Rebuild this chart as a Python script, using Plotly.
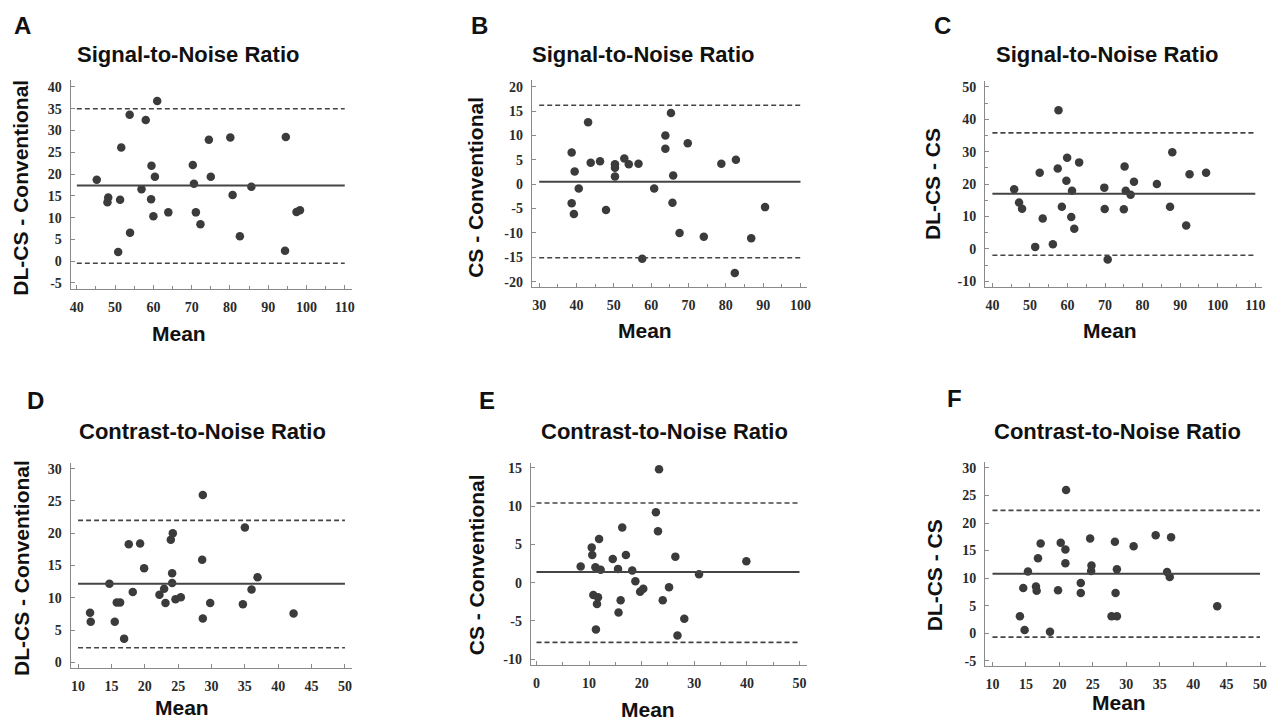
import plotly.graph_objects as go

W, H = 1281, 724

# ---------------- data ----------------
a_mean = [45.2, 48.2, 48.0, 51.3, 51.6, 50.8, 53.9, 53.8, 56.9, 58.0, 59.4, 59.5, 60.4, 60.0, 61.0,
          63.9, 70.3, 70.6, 71.1, 72.3, 74.5, 75.0, 80.1, 80.7, 82.6, 85.6, 94.6, 94.4, 97.4, 98.3]
a_diff = [18.7, 14.6, 13.5, 14.1, 26.1, 2.1, 6.5, 33.6, 16.5, 32.4, 14.2, 21.9, 19.4, 10.3, 36.8,
          11.2, 22.1, 17.8, 11.2, 8.5, 27.9, 19.4, 28.4, 15.2, 5.7, 17.1, 28.5, 2.4, 11.3, 11.7]

b_mean = [38.7, 39.5, 40.6, 38.7, 39.3, 43.1, 43.8, 46.3, 47.9, 50.3, 50.3, 50.3, 52.8, 54.0, 56.6,
          57.6, 60.8, 63.8, 63.8, 65.3, 65.9, 65.7, 67.6, 69.8, 74.1, 78.8, 82.7, 82.4, 86.8, 90.5]
b_diff = [6.5, 2.6, -0.9, -3.9, -6.1, 12.7, 4.4, 4.7, -5.3, 4.1, 3.4, 1.6, 5.3, 4.1, 4.2,
          -15.3, -0.9, 10.0, 7.3, 14.6, 1.8, -3.8, -10.0, 8.4, -10.8, 4.2, 5.0, -18.2, -11.1, -4.7]

c_mean = [45.8, 47.1, 47.9, 52.6, 53.4, 51.4, 56.1, 57.4, 57.6, 58.5, 59.9, 59.7, 63.1, 61.2, 61.0,
          61.8, 69.8, 69.9, 70.7, 75.2, 75.5, 76.8, 75.0, 77.7, 83.8, 87.9, 87.3, 91.6, 92.5, 96.9]
c_diff = [18.4, 14.3, 12.4, 23.5, 9.4, 0.6, 1.4, 24.8, 42.8, 13.0, 28.1, 21.0, 26.7, 17.9, 9.8,
          6.2, 18.9, 12.3, -3.3, 25.4, 17.9, 16.7, 12.2, 20.7, 20.0, 29.8, 13.0, 7.2, 23.0, 23.5]

d_mean = [11.8, 11.9, 14.7, 15.5, 15.8, 16.3, 17.6, 16.9, 18.2, 19.3, 19.9, 22.2, 22.9, 23.1, 23.9,
          24.2, 24.1, 24.1, 24.6, 25.4, 28.7, 28.6, 28.7, 29.8, 35.0, 36.9, 36.0, 34.7, 42.3]
d_diff = [7.7, 6.3, 12.2, 6.3, 9.3, 9.3, 18.3, 3.7, 10.9, 18.4, 14.6, 10.5, 11.4, 9.2, 19.0,
          20.0, 13.8, 12.3, 9.8, 10.1, 25.9, 15.9, 6.8, 9.2, 20.9, 13.2, 11.3, 9.0, 7.6]

e_mean = [8.4, 10.5, 10.6, 11.9, 11.2, 12.2, 10.8, 11.7, 11.5, 11.3, 14.5, 15.5, 15.6, 16.0, 16.3,
          17.0, 18.2, 18.8, 19.7, 20.3, 23.3, 22.7, 23.1, 26.4, 25.2, 24.0, 28.1, 26.8, 30.9, 39.9]
e_diff = [2.1, 4.6, 3.6, 5.7, 2.0, 1.7, -1.6, -1.9, -2.8, -6.1, 3.1, 1.8, -3.9, -2.3, 7.2,
          3.6, 1.6, 0.2, -1.2, -0.8, 14.8, 9.2, 6.7, 3.4, -0.6, -2.3, -4.7, -6.9, 1.1, 2.8]

f_mean = [14.1, 14.8, 14.6, 15.3, 16.8, 17.2, 16.5, 16.6, 18.6, 19.8, 20.2, 20.9, 21.0, 20.9, 23.2,
          23.2, 24.6, 24.8, 24.75, 28.3, 28.6, 28.4, 27.8, 28.6, 31.1, 34.4, 36.7, 36.1, 36.5, 43.6]
f_diff = [3.1, 0.6, 8.2, 11.2, 13.6, 16.3, 8.5, 7.7, 0.3, 7.8, 16.4, 15.2, 26.0, 12.7, 9.1,
          7.3, 17.2, 12.3, 11.3, 16.6, 11.6, 7.3, 3.1, 3.1, 15.8, 17.8, 17.4, 11.1, 10.2, 4.9]

# bias (solid) and limits of agreement (dashed)
bias = [17.4, 0.5, 17.0, 12.2, 1.4, 10.8]
loa_upper = [35.0, 16.2, 35.8, 22.0, 10.4, 22.3]
loa_lower = [-0.5, -15.1, -2.0, 2.3, -7.8, -0.7]

letters = ["A", "B", "C", "D", "E", "F"]
titles = ["Signal-to-Noise Ratio"] * 3 + ["Contrast-to-Noise Ratio"] * 3
ytitles = ["DL-CS - Conventional", "CS - Conventional", "DL-CS - CS",
           "DL-CS - Conventional", "CS - Conventional", "DL-CS - CS"]
xtitle = "Mean"

x_ticks = [list(range(40, 111, 10)), list(range(30, 101, 10)), list(range(40, 111, 10)),
           list(range(10, 51, 5)), list(range(0, 51, 10)), list(range(10, 51, 5))]
y_ticks = [list(range(-5, 41, 5)), list(range(-20, 21, 5)), list(range(-10, 51, 10)),
           list(range(0, 31, 5)), list(range(-10, 16, 5)), list(range(-5, 31, 5))]

xs = [a_mean, b_mean, c_mean, d_mean, e_mean, f_mean]
ys = [a_diff, b_diff, c_diff, d_diff, e_diff, f_diff]

# ---------------- layout geometry (pixels) ----------------
# plot boxes: left, right, top, bottom
boxes = [(70, 352, 79, 289), (533, 809, 79, 287), (988, 1266, 80, 287),
         (70, 352, 464, 671), (532, 809, 464, 668), (988, 1270, 463, 669)]
x_ranges = [[38.4, 111.8], [28.05, 101.7], [38.07, 111.8], [8.9, 51.0], [-1.06, 51.4], [8.9, 50.9]]
y_ranges = [[-6.4, 41.5], [-21.1, 21.3], [-11.8, 51.7], [-0.9, 30.9], [-10.8, 15.65], [-6.0, 31.1]]
x_minor = [5, 5, 5, None, 5, None]
y_minor = [None, None, 5, None, None, None]

letter_pos = [(22, 24), (480, 24), (945, 24), (35, 401), (488, 401), (957, 399)]
title_pos = [(188, 53), (645, 53), (1110, 53), (202, 432), (666, 432), (1121, 432)]
ytitle_pos = [(20, 187), (477, 187), (935, 183), (20, 570), (477, 567), (937, 577)]
xtitle_pos = [(179, 334), (647, 331), (1113, 331), (182, 710), (650, 712), (1122, 705)]

SANS = "Liberation Sans, Arial, sans-serif"
SERIF = "Liberation Serif, Times New Roman, serif"
AX = "#8a8a8a"
DOT = "#3b3b3b"
LINE = "#444444"

fig = go.Figure()
annotations = []


def ann(text, pos, size, angle=0, color="#111111"):
    annotations.append(dict(text=text, x=pos[0] / W, y=1 - pos[1] / H, xref="paper",
                            yref="paper", showarrow=False, xanchor="center",
                            yanchor="middle", textangle=angle,
                            font=dict(family=SANS, size=size, color=color, weight="bold")))


for i in range(6):
    n = "" if i == 0 else str(i + 1)
    xa, ya = "x" + n, "y" + n
    l, r, t, b = boxes[i]
    xt, yt = x_ticks[i], y_ticks[i]

    fig.add_trace(go.Scatter(x=xs[i], y=ys[i], mode="markers", xaxis=xa, yaxis=ya,
                             marker=dict(color=DOT, size=8.5, line=dict(width=0)),
                             showlegend=False, hoverinfo="x+y"))
    xline = [xt[0], xt[-1]]
    fig.add_trace(go.Scatter(x=xline, y=[bias[i]] * 2, mode="lines", xaxis=xa, yaxis=ya,
                             line=dict(color=LINE, width=2), showlegend=False, hoverinfo="skip"))
    for v in (loa_upper[i], loa_lower[i]):
        fig.add_trace(go.Scatter(x=xline, y=[v] * 2, mode="lines", xaxis=xa, yaxis=ya,
                                 line=dict(color=LINE, width=1.6, dash="5px,3px"),
                                 showlegend=False, hoverinfo="skip"))

    common = dict(showline=True, linecolor=AX, linewidth=1.2, showgrid=False, zeroline=False,
                  ticks="inside", ticklen=4, tickcolor=AX, tickwidth=1,
                  tickfont=dict(family=SERIF, size=14, color="#2a2a2a", weight="bold"),
                  fixedrange=True)
    xaxis = dict(common, domain=[l / W, r / W], range=x_ranges[i], anchor=ya,
                 tickmode="array", tickvals=xt, ticktext=[str(v) for v in xt],
                 ticklabelstandoff=5)
    if x_minor[i]:
        xaxis["minor"] = dict(dtick=x_minor[i], tick0=0, ticks="inside", ticklen=3,
                              tickcolor=AX, showgrid=False)
    yaxis = dict(common, domain=[1 - b / H, 1 - t / H], range=y_ranges[i], anchor=xa,
                 tickmode="array", tickvals=yt, ticktext=[str(v) for v in yt],
                 ticklabelstandoff=5)
    if y_minor[i]:
        yaxis["minor"] = dict(dtick=y_minor[i], tick0=0, ticks="inside", ticklen=3,
                              tickcolor=AX, showgrid=False)
    fig.layout["xaxis" + n] = xaxis
    fig.layout["yaxis" + n] = yaxis

    ann(letters[i], letter_pos[i], 24)
    ann(titles[i], title_pos[i], 22)
    ann(ytitles[i], ytitle_pos[i], 21, angle=-90)
    ann(xtitle, xtitle_pos[i], 21)

fig.update_layout(width=W, height=H, margin=dict(l=0, r=0, t=0, b=0),
                  paper_bgcolor="white", plot_bgcolor="white",
                  annotations=annotations, showlegend=False)

fig.write_html("out.html", config={"displayModeBar": False},
               post_script="document.body.style.margin='0';document.body.style.overflow='hidden';")
